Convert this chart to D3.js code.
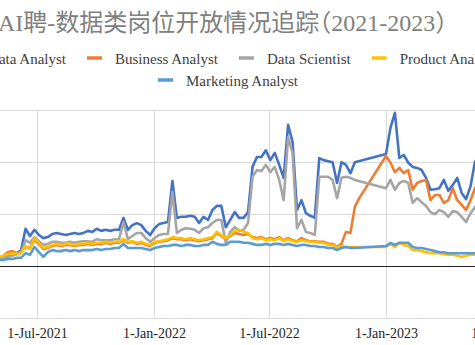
<!DOCTYPE html>
<html><head><meta charset="utf-8">
<script src="https://cdn.jsdelivr.net/npm/d3@7"></script>
<style>body{margin:0;background:#fff}svg{display:block}</style>
</head><body>
<svg id="c" width="475" height="345"></svg>
<script>
const title = "AI聘-数据类岗位开放情况追踪（2021-2023）";
const seriesNames = ["Data Analyst", "Business Analyst", "Data Scientist", "Product Analyst", "Marketing Analyst"];
const seriesColors = ["#4472C4", "#ED7D31", "#A5A5A5", "#FFC000", "#5B9BD5"];
const startDate = "2021-04-25";   // weekly observations
const weekCount = 110;
const yTicks = [-100, 0, 100, 200, 300];
const xTickDates = ["2021-07-01", "2022-01-01", "2022-07-01", "2023-01-01", "2023-07-01"];
const xTickLabels = ["1-Jul-2021", "1-Jan-2022", "1-Jul-2022", "1-Jan-2023", "1-Jul-2023"];

const dataAnalyst = [
  15,17,17,19,21,24,30,71,57,69,
  59,53,55,61,63,61,59,61,63,61,
  63,67,65,71,67,69,67,69,69,92,
  69,78,82,78,67,59,72,80,82,84,
  163,92,94,94,96,94,82,94,88,107,
  115,115,74,88,103,92,92,103,190,209,
  209,222,203,217,194,169,271,238,107,126,
  101,96,92,207,203,201,199,159,199,194,
  178,199,null,null,null,null,null,null,215,265,
  294,207,213,198,190,188,184,169,146,147,
  149,165,144,155,169,140,128,153,200,210];
const businessAnalyst = [
  13,15,19,26,28,24,26,36,34,49,
  42,32,34,38,40,38,40,40,38,40,
  40,42,40,42,42,44,42,44,44,49,
  44,46,42,44,40,38,44,46,47,49,
  53,51,51,49,51,49,47,49,51,53,
  63,57,51,57,63,61,59,61,55,53,
  55,51,53,51,55,49,53,49,47,53,
  49,47,47,46,46,42,42,36,42,65,
  63,113,130,null,null,null,null,null,211,198,
  180,188,178,184,146,159,163,165,126,136,
  136,121,126,149,126,117,107,126,149,165];
const dataScientist = [
  13,15,15,17,19,22,26,49,44,55,
  47,40,42,46,46,44,44,46,44,46,
  47,47,46,51,49,49,49,51,51,84,
  51,57,63,63,53,46,53,59,61,61,
  142,63,69,72,71,69,63,72,74,82,
  88,88,44,65,74,67,69,82,171,184,
  182,194,180,190,165,126,247,217,72,88,
  65,63,59,171,171,171,165,130,169,171,
  169,165,null,null,null,null,null,null,149,165,
  146,159,163,159,121,130,122,115,103,99,
  107,103,94,105,103,94,84,101,113,126];
const productAnalyst = [
  15,17,19,22,24,22,24,38,32,53,
  44,34,36,40,42,40,42,42,40,42,
  42,44,42,44,44,46,44,46,46,51,
  46,47,44,46,42,40,46,47,49,51,
  55,53,53,51,53,51,49,51,53,55,
  65,59,53,59,67,69,65,63,53,51,
  53,49,51,49,53,47,51,47,46,49,
  47,46,46,44,44,40,40,34,38,36,
  36,36,null,null,null,null,null,null,36,42,
  36,44,40,38,30,30,28,26,24,24,
  24,22,21,21,19,17,19,21,21,21];
const marketingAnalyst = [
  9,11,11,13,13,15,15,24,21,36,
  26,17,26,30,28,28,30,28,30,28,
  30,30,30,32,30,32,32,34,34,42,
  34,34,34,34,32,30,34,36,38,38,
  40,40,38,40,40,38,38,40,40,46,
  42,40,40,46,46,46,44,44,42,40,
  40,42,40,42,42,40,42,40,38,40,
  40,38,38,36,36,34,34,30,34,36,
  34,34,null,null,null,null,null,null,38,44,
  40,44,44,44,36,34,34,32,30,28,
  26,26,24,24,24,24,24,24,24,24];

const seriesValues = [dataAnalyst, businessAnalyst, dataScientist, productAnalyst, marketingAnalyst];

const parse = d3.timeParse("%Y-%m-%d");
const start = parse(startDate);
const dates = d3.range(weekCount).map(i => d3.timeDay.offset(start, 7 * i));

const W = 475, H = 345;
const svg = d3.select("#c");
const FONT = "'Liberation Serif','Times New Roman','Noto Sans CJK SC',serif";

const x = d3.scaleTime().domain([parse("2021-07-01"), parse("2023-01-01")]).range([37, 386]);
const y = d3.scaleLinear().domain([-100, 300]).range([317.7, 109.7]);

// horizontal gridlines
svg.append("g").selectAll("line").data(yTicks.filter(v => v !== 0)).join("line")
  .attr("x1", 0).attr("x2", W).attr("y1", d => Math.round(y(d)) + 0.5).attr("y2", d => Math.round(y(d)) + 0.5)
  .attr("stroke", "#d9d9d9").attr("stroke-width", 1);
// vertical gridlines
svg.append("g").selectAll("line").data(xTickDates).join("line")
  .attr("x1", d => Math.round(x(parse(d))) + 0.5).attr("x2", d => Math.round(x(parse(d))) + 0.5)
  .attr("y1", y(300)).attr("y2", y(-100))
  .attr("stroke", "#d9d9d9").attr("stroke-width", 1);
// zero line
svg.append("line").attr("x1", 0).attr("x2", W)
  .attr("y1", Math.round(y(0)) + 0.5).attr("y2", Math.round(y(0)) + 0.5)
  .attr("stroke", "#222").attr("stroke-width", 1.2);

// x tick labels via axis
const xAxis = d3.axisBottom(x)
  .tickValues(xTickDates.map(parse))
  .tickFormat((d, i) => xTickLabels[i])
  .tickSize(0).tickPadding(10);
const gx = svg.append("g").attr("transform", `translate(0,${y(-100)})`).call(xAxis);
gx.select(".domain").remove();
gx.selectAll("text").attr("font-family", FONT).attr("font-size", 14).attr("fill", "#262626");

// series lines (connect across missing points)
const line = d3.line().x(d => x(d.date)).y(d => y(d.value));
seriesValues.forEach((vals, si) => {
  const pts = dates.map((d, i) => ({date: d, value: vals[i]})).filter(p => p.value !== null);
  svg.append("path").datum(pts)
    .attr("d", line).attr("fill", "none")
    .attr("stroke", seriesColors[si]).attr("stroke-width", 2.6)
    .attr("stroke-linejoin", "round").attr("stroke-linecap", "round");
});

// title
svg.append("text").attr("x", -2).attr("y", 31).attr("text-anchor", "start")
  .attr("font-family", FONT).attr("font-size", 24).attr("fill", "#808080")
  .style("font-feature-settings", "'halt'")
  .text(title);

// legend
const lg = svg.append("g");
const swW = 15, gapT = 13, gapI = 21;
function measure(t) {
  const tmp = svg.append("text").attr("font-family", FONT).attr("font-size", 15).text(t);
  const w = tmp.node().getComputedTextLength(); tmp.remove(); return w;
}
function item(i, sx, cy) {
  lg.append("line").attr("x1", sx).attr("x2", sx + swW).attr("y1", cy).attr("y2", cy)
    .attr("stroke", seriesColors[i]).attr("stroke-width", 3.5);
  lg.append("text").attr("x", sx + swW + gapT).attr("y", cy + 5.5)
    .attr("font-family", FONT).attr("font-size", 15).attr("fill", "#404040").text(seriesNames[i]);
  return sx + swW + gapT + measure(seriesNames[i]) + gapI;
}
// row 1: Data Analyst text ends at x=66
let sx = 66 - measure(seriesNames[0]) - gapT - swW;
for (let i = 0; i < 4; i++) sx = item(i, sx, 58);
// row 2
const w4 = swW + gapT + measure(seriesNames[4]);
item(4, 228 - w4 / 2, 80);
</script>
</body></html>
